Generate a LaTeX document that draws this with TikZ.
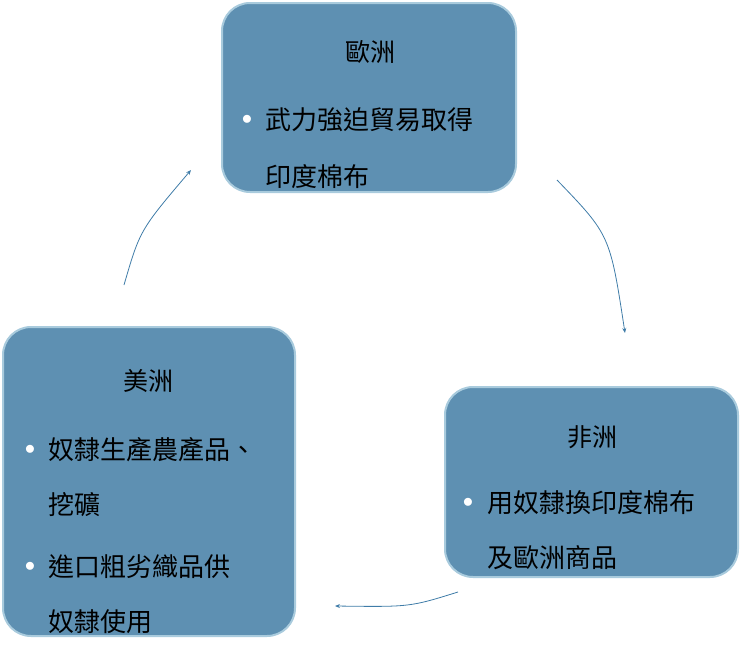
\documentclass[tikz,border=0pt]{standalone}
\usepackage{fontspec}
\usetikzlibrary{arrows.meta}
\newfontfamily\cjk{Noto Sans CJK TC}
\definecolor{boxfill}{HTML}{5E90B2}
\definecolor{boxedge}{HTML}{A9CBDD}
\definecolor{arr}{HTML}{3F7CA8}
\begin{document}
\begin{tikzpicture}[x=1pt,y=-1pt,
  box/.style={draw=boxedge,line width=2pt,fill=boxfill,rounded corners=28pt},
  txt/.style={font=\cjk\fontsize{26}{30}\selectfont,anchor=west,inner sep=0pt,text=black},
  ttl/.style={font=\cjk\fontsize{25}{30}\selectfont,inner sep=0pt,text=black},
  bul/.style={font=\fontsize{20}{20}\selectfont,inner sep=0pt,text=white},
  conn/.style={draw=arr,line width=0.8pt,-{Stealth[length=5pt,width=4pt]}}]
\useasboundingbox (0,0) rectangle (740,659);
\draw[box] (222,3) rectangle (516,192);
\draw[box] (3,327) rectangle (295,636);
\draw[box] (445,387) rectangle (738,577);
\node[ttl] (eu) at (370,52) {歐洲};
\node[bul] at (247,120) {$\bullet$};
\node[txt] (eu1) at (265,120) {武力強迫貿易取得};
\node[txt] (eu2) at (265,177) {印度棉布};
\node[ttl] (am) at (148,381) {美洲};
\node[bul] at (30,450) {$\bullet$};
\node[txt] (am1) at (48,450) {奴隸生產農產品、};
\node[txt] (am2) at (48,505) {挖礦};
\node[bul] at (30,567) {$\bullet$};
\node[txt] (am3) at (48,567) {進口粗劣織品供};
\node[txt] (am4) at (48,622) {奴隸使用};
\node[ttl] (af) at (592,437) {非洲};
\node[bul] at (468,503) {$\bullet$};
\node[txt] (af1) at (487,503) {用奴隸換印度棉布};
\node[txt] (af2) at (487,558) {及歐洲商品};
\coordinate (a1) at (124,285); \coordinate (a2) at (191,170);
\coordinate (b1) at (557,180); \coordinate (b2) at (625,333);
\coordinate (c1) at (458,592); \coordinate (c2) at (335,606);
\draw[conn] (a1) .. controls (140,230) .. (a2);
\draw[conn] (b1) .. controls (610,235) .. (b2);
\draw[conn] (c1) .. controls (410,607) .. (c2);
\end{tikzpicture}
\end{document}
